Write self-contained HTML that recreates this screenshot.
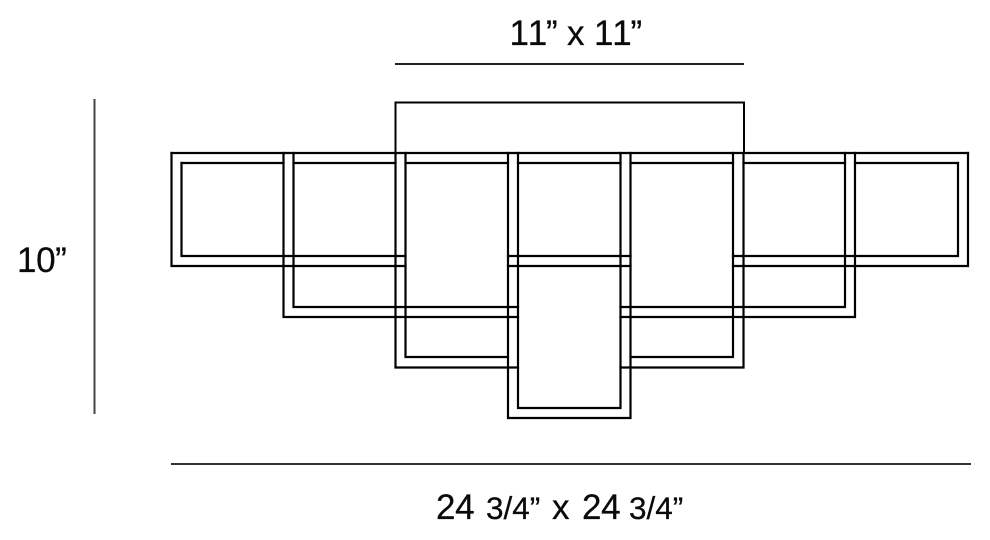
<!DOCTYPE html>
<html><head><meta charset="utf-8"><style>
html,body{margin:0;padding:0;background:#fff;width:990px;height:540px;overflow:hidden}
svg{display:block}
text{font-family:"Liberation Sans",sans-serif;fill:#0a0a0a;font-size:35px;font-kerning:none;stroke:#0a0a0a;stroke-width:.25}
</style></head><body>
<svg width="990" height="540" viewBox="0 0 990 540" xmlns="http://www.w3.org/2000/svg">
<g stroke="#000" stroke-width="2.2" fill="none" stroke-linecap="square">
<!-- top shade -->
<path d="M395.5 153V102.5H744V153" stroke-width="2"/>
<!-- top horizontals -->
<path d="M171.5 153H968"/>
<path d="M181.5 163H283.5M293.5 163H395.5M405.5 163H508M518 163H620.5M630.5 163H733M743.5 163H845M855 163H958"/>
<!-- outer sides -->
<path d="M171.5 153V266H405.5M181.5 163V256H405.5"/>
<path d="M968 153V266H733M958 163V256H733"/>
<!-- middle row -->
<path d="M508 256H630.5M508 266H630.5"/>
<!-- second tier -->
<path d="M283.5 153V317H518M293.5 153V307H518"/>
<path d="M855 153V317H620.5M845 153V307H620.5"/>
<!-- third tier -->
<path d="M395.5 153V367.5H518M405.5 153V357H508"/>
<path d="M743.5 153V367.5H620.5M733 153V357H630.5"/>
<!-- bottom tier -->
<path d="M508 153V418H630.5V153M518 153V408H620.5V153"/>
</g>
<!-- dimension lines -->
<g stroke="#222" stroke-width="2" fill="none">
<path d="M395 64H744"/>
<path d="M94.5 99V414" stroke="#444"/>
<path d="M171 464H971" stroke="#333"/>
</g>
<text x="509.5" y="45" letter-spacing="-1.2">11”</text>
<text x="567" y="45">x</text>
<text x="594" y="45" letter-spacing="-1.2">11”</text>
<text x="17" y="272" letter-spacing="-0.4">10”</text>
<text x="436" y="519" letter-spacing="-0.4">24</text>
<text x="486" y="519" style="font-size:31.5px">3/4”</text>
<text x="552" y="519">x</text>
<text x="582" y="519" letter-spacing="-0.4">24</text>
<text x="629" y="519" style="font-size:31.5px">3/4”</text>
</svg>
</body></html>
